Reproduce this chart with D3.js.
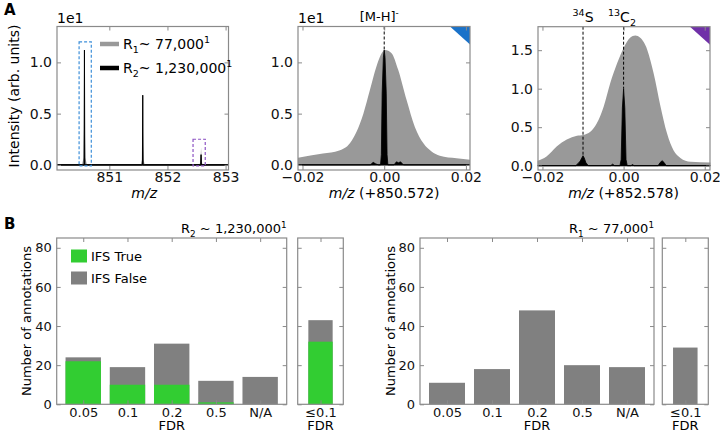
<!DOCTYPE html>
<html>
<head>
<meta charset="utf-8">
<script src="https://cdn.jsdelivr.net/npm/d3@7"></script>
<style>
  body { margin: 0; background: #fff; }
  text { font-family: "DejaVu Sans", sans-serif; }
</style>
</head>
<body>
<div id="chart"></div>
<script>
// ---- data: overview spectrum (m/z, intensity in units of 1e1) ----
var ovR1Mz = [850.10, 850.53, 850.556, 850.566, 850.572, 850.578, 850.588, 850.615,
              851.54, 851.562, 851.570, 851.575, 851.580, 851.588, 851.61,
              852.55, 852.566, 852.574, 852.578, 852.582, 852.590, 852.606, 853.05];
var ovR1I  = [0, 0, 0.07, 0.4, 1.12, 0.4, 0.07, 0,
              0, 0.05, 0.3, 0.62, 0.3, 0.05, 0,
              0, 0.03, 0.12, 0.17, 0.12, 0.03, 0, 0];
var ovR2Mz = [850.10, 850.566, 850.572, 850.578, 851.569, 851.575, 851.581, 852.572, 852.578, 852.584, 853.05];
var ovR2I  = [0, 0, 1.12, 0, 0, 0.68, 0, 0, 0.10, 0, 0];

// ---- data: zoom on [M-H]- (offset from 850.572) ----
var mhR1Off = [-0.0211, -0.015, -0.011, -0.0084, -0.0068, -0.0051, -0.0035, -0.0019, 0.0002,
               0.0018, 0.0034, 0.0055, 0.0075, 0.0096, 0.0116, 0.0136, 0.0177, 0.021];
var mhR1I   = [0.07, 0.11, 0.14, 0.21, 0.32, 0.5, 0.73, 0.96, 1.12,
               1.09, 0.93, 0.63, 0.37, 0.21, 0.13, 0.09, 0.065, 0.05];
var mhR2Off = [-0.0211, -0.0034, -0.0027, -0.0021, -0.0014, -0.0009, -0.0007, -0.0005, -0.0002, 0,
               0.0002, 0.0005, 0.0007, 0.0009, 0.0024, 0.003, 0.0035, 0.004, 0.0047, 0.021];
var mhR2I   = [0, 0, 0.025, 0.01, 0, 0, 0.1, 0.7, 1.05, 1.12,
               1.05, 0.7, 0.1, 0, 0, 0.03, 0.02, 0.03, 0, 0];

// ---- data: zoom on 34S / 13C2 (offset from 852.578) ----
var isoR1Off = [-0.0212, -0.019, -0.0165, -0.014, -0.0115, -0.0099, -0.0082, -0.0066, -0.0049, -0.0033,
                -0.0016, 0, 0.0016, 0.0029, 0.0041, 0.0058, 0.0074, 0.0091, 0.0107, 0.0123, 0.014, 0.0165, 0.0214];
var isoR1I   = [0.065, 0.12, 0.25, 0.34, 0.39, 0.40, 0.44, 0.55, 0.77, 1.07,
                1.33, 1.53, 1.66, 1.69, 1.66, 1.51, 1.2, 0.77, 0.42, 0.2, 0.1, 0.05, 0.04];
var isoR2Off = [-0.0212, -0.0118, -0.0112, -0.0107, -0.0103, -0.01, -0.0097, -0.0093, -0.0087, -0.0032, -0.0027, -0.0022,
                -0.0009, -0.0006, -0.0003, 0, 0.0003, 0.0006, 0.0009, 0.0018, 0.0022, 0.0026,
                0.0085, 0.009, 0.0095, 0.01, 0.0105, 0.0214];
var isoR2I   = [0, 0, 0.03, 0.06, 0.1, 0.13, 0.1, 0.04, 0, 0, 0.02, 0,
                0, 0.08, 0.75, 1.0, 0.75, 0.08, 0, 0, 0.015, 0,
                0, 0.04, 0.065, 0.04, 0, 0];

// ---- data: annotation counts by FDR ----
var fdrCats = ["0.05", "0.1", "0.2", "0.5", "N/A"];
var r2Total = [24, 19, 31, 12, 14];
var r2True  = [22, 10, 10, 1, 0];
var r2Cum = { label: "\u22640.1", total: 43, ifsTrue: 32 };
var r1Total = [11, 18, 48, 20, 19];
var r1Cum = { label: "\u22640.1", total: 29 };

var grayFill = "#999999", barGray = "#808080", green = "#32cd32", frameCol = "#8a8a8a";

var svg = d3.select("#chart").append("svg")
    .attr("width", 720)
    .attr("height", 433);
svg.append("rect").attr("width", 720).attr("height", 433).attr("fill", "#fff");

// text with sub/superscripts: parts = [[text, ''|'sub'|'sup'], ...]
function rich(t, parts, size) {
    var shift = 0;
    parts.forEach(function(p) {
        var target = p[1] === "sub" ? size * 0.3 : (p[1] === "sup" ? -size * 0.4 : 0);
        t.append("tspan")
            .attr("dy", target - shift)
            .attr("font-size", p[1] ? size * 0.68 : size)
            .text(p[0]);
        shift = target;
    });
    return t;
}

// frame with inward ticks on all four sides
function axes(x, y, o) {
    var g = svg.append("g");
    var x0 = x.range()[0], x1 = x.range()[1], y0 = y.range()[0], y1 = y.range()[1];
    var fs = o.fs;
    var L = g.append("g").attr("transform", "translate(" + x0 + ",0)")
        .call(d3.axisLeft(y).tickValues(o.yTicks).tickSize(-4).tickPadding(5)
            .tickFormat(o.yFmt || function() { return ""; }));
    var R = g.append("g").attr("transform", "translate(" + x1 + ",0)")
        .call(d3.axisRight(y).tickValues(o.yTicks).tickSize(-4).tickFormat(""));
    var B = g.append("g").attr("transform", "translate(0," + y0 + ")")
        .call(d3.axisBottom(x).tickValues(o.xTicks).tickSize(-4).tickPadding(o.xPad || 5)
            .tickFormat(o.xFmt || function() { return ""; }));
    var T = g.append("g").attr("transform", "translate(0," + y1 + ")")
        .call(d3.axisTop(x).tickValues(o.xTicks).tickSize(-4).tickFormat(""));
    [L, R, B, T].forEach(function(a) {
        a.select(".domain").remove();
        a.selectAll(".tick line").attr("stroke", frameCol);
        a.selectAll("text").attr("font-size", fs).attr("fill", "#111")
            .attr("font-family", "DejaVu Sans");
    });
    g.append("rect")
        .attr("x", x0).attr("y", y1)
        .attr("width", x1 - x0).attr("height", y0 - y1)
        .attr("fill", "none").attr("stroke", frameCol).attr("stroke-width", 1.2);
    return g;
}

function areaPath(x, y, xs, ys, curve) {
    var pts = xs.map(function(v, i) { return [v, ys[i]]; });
    return d3.area()
        .x(function(d) { return x(d[0]); })
        .y0(y(0))
        .y1(function(d) { return y(d[1]); })
        .curve(curve || d3.curveLinear)(pts);
}

var offFmt = function(d) { return d3.format(".2f")(d).replace("-", "\u2212"); };

// ================= Panel A1: overview =================
var xA1 = d3.scaleLinear().domain([850.1, 853.05]).range([57, 228.5]);
var yA = d3.scaleLinear().domain([-0.05, 1.35]).range([170, 26.5]);
var gA1 = svg.append("g");
gA1.append("line").attr("x1", xA1.range()[0]).attr("x2", xA1.range()[1])
    .attr("y1", yA(0)).attr("y2", yA(0)).attr("stroke", "#000").attr("stroke-width", 1.2);
gA1.append("path").attr("d", areaPath(xA1, yA, ovR1Mz, ovR1I)).attr("fill", grayFill);
gA1.append("path").attr("d", areaPath(xA1, yA, ovR2Mz, ovR2I))
    .attr("fill", "#000").attr("stroke", "#000").attr("stroke-width", 1);

var boxes = [
    { x0: 850.48, x1: 850.69, top: 1.20, col: "#3d8fd9" },
    { x0: 852.44, x1: 852.65, top: 0.25, col: "#8e55c4" }
];
gA1.selectAll(".box").data(boxes).enter().append("rect")
    .attr("x", function(d) { return xA1(d.x0); })
    .attr("width", function(d) { return xA1(d.x1) - xA1(d.x0); })
    .attr("y", function(d) { return yA(d.top); })
    .attr("height", function(d) { return yA(-0.01) - yA(d.top); })
    .attr("fill", "none").attr("stroke", function(d) { return d.col; })
    .attr("stroke-width", 1.2).attr("stroke-dasharray", "3,2");

axes(xA1, yA, { fs: 14, yTicks: [0, 0.5, 1.0], yFmt: d3.format(".1f"),
                xTicks: [851, 852, 853], xFmt: d3.format("d"), xPad: 2 });

// legend
var legA = [
    { col: grayFill, parts: [["R", ""], ["1", "sub"], ["~ 77,000", ""], ["1", "sup"]] },
    { col: "#000", parts: [["R", ""], ["2", "sub"], ["~ 1,230,000", ""], ["1", "sup"]] }
];
legA.forEach(function(d, i) {
    var yy = 44 + i * 24;
    svg.append("line").attr("x1", 100).attr("x2", 119).attr("y1", yy).attr("y2", yy)
        .attr("stroke", d.col).attr("stroke-width", 4.5);
    rich(svg.append("text").attr("x", 123).attr("y", yy + 5), d.parts, 14);
});

svg.append("text").attr("x", 57).attr("y", 23).attr("font-size", 14).text("1e1");
svg.append("text").attr("x", xA1(851.6)).attr("y", 198).attr("text-anchor", "middle")
    .attr("font-size", 14).attr("font-style", "italic").text("m/z");
svg.append("text").attr("transform", "translate(19,96) rotate(-90)")
    .attr("text-anchor", "middle").attr("font-size", 14).text("Intensity (arb. units)");
svg.append("text").attr("x", 4).attr("y", 15).attr("font-size", 15).attr("font-weight", "bold").text("A");

// ================= Panel A2: [M-H]- zoom =================
var xA2 = d3.scaleLinear().domain([-0.0211, 0.021]).range([298, 470]);
var gA2 = svg.append("g");
gA2.append("path").attr("d", areaPath(xA2, yA, mhR1Off, mhR1I, d3.curveMonotoneX)).attr("fill", grayFill);
gA2.append("line").attr("x1", xA2.range()[0]).attr("x2", xA2.range()[1])
    .attr("y1", yA(0)).attr("y2", yA(0)).attr("stroke", "#000").attr("stroke-width", 1);
gA2.append("path").attr("d", areaPath(xA2, yA, mhR2Off, mhR2I))
    .attr("fill", "#000").attr("stroke", "#000").attr("stroke-width", 0.8);
gA2.append("line").attr("x1", xA2(0)).attr("x2", xA2(0))
    .attr("y1", yA.range()[1]).attr("y2", yA(1.12))
    .attr("stroke", "#000").attr("stroke-width", 1).attr("stroke-dasharray", "3,2");
gA2.append("path")
    .attr("d", "M" + (xA2.range()[1] - 20) + "," + yA.range()[1] + "L" + xA2.range()[1] + "," +
        yA.range()[1] + "L" + xA2.range()[1] + "," + (yA.range()[1] + 18) + "Z")
    .attr("fill", "#1a72c9");
axes(xA2, yA, { fs: 14, yTicks: [0, 0.5, 1.0], yFmt: d3.format(".1f"),
                xTicks: [-0.02, 0, 0.02], xFmt: offFmt, xPad: 2 });
svg.append("text").attr("x", 298).attr("y", 23).attr("font-size", 14).text("1e1");
rich(svg.append("text").attr("x", xA2(-0.0012)).attr("y", 21).attr("text-anchor", "middle"),
    [["[M-H]", ""], ["-", "sup"]], 13);
svg.append("text").attr("x", xA2(0)).attr("y", 198).attr("text-anchor", "middle").attr("font-size", 14)
    .html('<tspan font-style="italic">m/z</tspan> (+850.572)');

// ================= Panel A3: isotopes zoom =================
var xA3 = d3.scaleLinear().domain([-0.0211, 0.0213]).range([538, 710]);
var yA3 = d3.scaleLinear().domain([-0.056, 1.805]).range([170, 26.7]);
var gA3 = svg.append("g");
gA3.append("path").attr("d", areaPath(xA3, yA3, isoR1Off, isoR1I, d3.curveMonotoneX)).attr("fill", grayFill);
gA3.append("line").attr("x1", xA3.range()[0]).attr("x2", xA3.range()[1])
    .attr("y1", yA3(0)).attr("y2", yA3(0)).attr("stroke", "#000").attr("stroke-width", 1);
gA3.append("path").attr("d", areaPath(xA3, yA3, isoR2Off, isoR2I))
    .attr("fill", "#000").attr("stroke", "#000").attr("stroke-width", 0.8);
var isoMarks = [{ off: -0.01, top: 0.13 }, { off: 0, top: 1.0 }];
gA3.selectAll(".mk").data(isoMarks).enter().append("line")
    .attr("x1", function(d) { return xA3(d.off); }).attr("x2", function(d) { return xA3(d.off); })
    .attr("y1", yA3.range()[1]).attr("y2", function(d) { return yA3(d.top); })
    .attr("stroke", "#000").attr("stroke-width", 1).attr("stroke-dasharray", "3,2");
gA3.append("path")
    .attr("d", "M" + (xA3.range()[1] - 20) + "," + yA3.range()[1] + "L" + xA3.range()[1] + "," +
        yA3.range()[1] + "L" + xA3.range()[1] + "," + (yA3.range()[1] + 18) + "Z")
    .attr("fill", "#7030a8");
axes(xA3, yA3, { fs: 14, yTicks: [0, 0.5, 1.0, 1.5], yFmt: d3.format(".1f"),
                 xTicks: [-0.02, 0, 0.02], xFmt: offFmt, xPad: 2 });
rich(svg.append("text").attr("x", xA3(-0.01)).attr("y", 22).attr("text-anchor", "middle"),
    [["34", "sup"], ["S", ""]], 14);
rich(svg.append("text").attr("x", xA3(-0.0004)).attr("y", 22).attr("text-anchor", "middle"),
    [["13", "sup"], ["C", ""], ["2", "sub"]], 14);
svg.append("text").attr("x", xA3(0)).attr("y", 198).attr("text-anchor", "middle").attr("font-size", 14)
    .html('<tspan font-style="italic">m/z</tspan> (+852.578)');

// ================= Panel B =================
function barPanel(o) {
    var x = d3.scaleLinear().domain([-0.6, 4.6]).range(o.main);
    var xs = d3.scaleLinear().domain([-0.75, 0.75]).range(o.side);
    var y = d3.scaleLinear().domain([0, 85]).range([404.3, 238]);
    var g = svg.append("g");
    var bw = x(0.8) - x(0), bws = xs(0.8) - xs(0);

    g.selectAll(".tot").data(o.total).enter().append("rect")
        .attr("x", function(d, i) { return x(i) - bw / 2; })
        .attr("width", bw)
        .attr("y", function(d) { return y(d); })
        .attr("height", function(d) { return y(0) - y(d); })
        .attr("fill", barGray);
    if (o.ifsTrue) {
        g.selectAll(".tru").data(o.ifsTrue).enter().append("rect")
            .attr("x", function(d, i) { return x(i) - bw / 2; })
            .attr("width", bw)
            .attr("y", function(d) { return y(d); })
            .attr("height", function(d) { return y(0) - y(d); })
            .attr("fill", green);
    }
    g.append("rect").attr("x", xs(0) - bws / 2).attr("width", bws)
        .attr("y", y(o.cum.total)).attr("height", y(0) - y(o.cum.total)).attr("fill", barGray);
    if (o.cum.ifsTrue) {
        g.append("rect").attr("x", xs(0) - bws / 2).attr("width", bws)
            .attr("y", y(o.cum.ifsTrue)).attr("height", y(0) - y(o.cum.ifsTrue)).attr("fill", green);
    }

    axes(x, y, { fs: 13, yTicks: [0, 20, 40, 60, 80], yFmt: d3.format("d"),
                 xTicks: [0, 1, 2, 3, 4], xFmt: function(d) { return fdrCats[d]; }, xPad: 3 });
    axes(xs, y, { fs: 13, yTicks: [0, 20, 40, 60, 80],
                  xTicks: [0], xFmt: function() { return o.cum.label; }, xPad: 3 });

    svg.append("text").attr("x", x(2)).attr("y", 430).attr("text-anchor", "middle")
        .attr("font-size", 13).text("FDR");
    svg.append("text").attr("x", xs(0)).attr("y", 430).attr("text-anchor", "middle")
        .attr("font-size", 13).text("FDR");
    svg.append("text").attr("transform", "translate(" + o.ylabX + ",321) rotate(-90)")
        .attr("text-anchor", "middle").attr("font-size", 13).text("Number of annotations");
    rich(svg.append("text").attr("x", o.main[1]).attr("y", 233).attr("text-anchor", "end"),
        o.title, 13);
}

barPanel({ main: [56.7, 286.7], side: [297.7, 343.3], total: r2Total, ifsTrue: r2True, cum: r2Cum,
           ylabX: 31, title: [["R", ""], ["2", "sub"], [" ~ 1,230,000", ""], ["1", "sup"]] });
barPanel({ main: [420, 654], side: [662.3, 708.3], total: r1Total, cum: r1Cum,
           ylabX: 395, title: [["R", ""], ["1", "sub"], [" ~ 77,000", ""], ["1", "sup"]] });

// legend B
var legB = [{ col: green, label: "IFS True" }, { col: barGray, label: "IFS False" }];
legB.forEach(function(d, i) {
    var yy = 249.5 + i * 22;
    svg.append("rect").attr("x", 71).attr("y", yy).attr("width", 16).attr("height", 13).attr("fill", d.col);
    svg.append("text").attr("x", 91).attr("y", yy + 11).attr("font-size", 13).text(d.label);
});
svg.append("text").attr("x", 4).attr("y", 229).attr("font-size", 15).attr("font-weight", "bold").text("B");
</script>
</body>
</html>
